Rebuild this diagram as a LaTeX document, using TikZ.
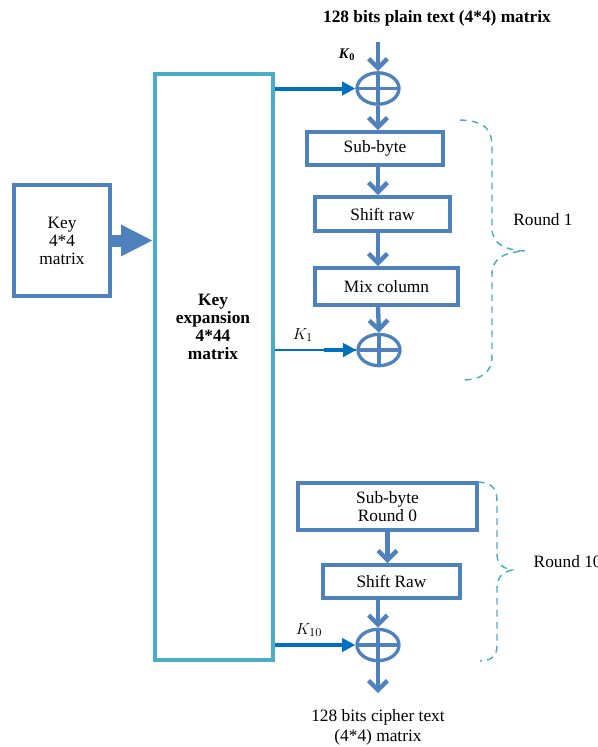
\documentclass[tikz,border=0pt]{standalone}
\usepackage{fontspec}
\setmainfont{Liberation Serif}
\usepackage{amsmath,amssymb}
\usetikzlibrary{shapes.geometric,arrows.meta,calc}
\definecolor{boxblue}{RGB}{79,129,189}
\definecolor{keycyan}{RGB}{75,172,198}
\definecolor{keyblue}{RGB}{0,112,192}

\begin{document}
\begin{tikzpicture}[x=0.75pt, y=-0.75pt,
    font=\fontsize{13}{13.5}\selectfont,
    stage/.style={draw=boxblue, line width=3pt, inner sep=0pt, align=center},
    xorop/.style={draw=boxblue, line width=2.5pt, ellipse, inner sep=0pt,
        minimum width=31.5pt, minimum height=23.5pt,
        path picture={\draw[boxblue, line width=2.5pt]
            (path picture bounding box.north) -- (path picture bounding box.south)
            (path picture bounding box.west) -- (path picture bounding box.east);}},
    flow/.style={boxblue, line width=3.3pt, -{Straight Barb[length=7pt,width=14pt]}},
    keyflow/.style={keyblue, line width=3pt, -{Triangle[length=10pt,width=10pt]}},
    roundbrace/.style={keycyan, line width=1.1pt, dash pattern=on 5pt off 4pt}]
    \useasboundingbox (0,0) rectangle (598,747);

    % Key input
    \node[stage, minimum width=72pt, minimum height=83.25pt] (key) at (62,240.5) {Key\\4*4\\matrix};

    % Key expansion
    \node[stage, draw=keycyan, minimum width=88.5pt, minimum height=439.5pt] (exp) at (214,367) {};
    \node[font=\fontsize{13}{13.5}\selectfont\bfseries, align=center] (explabel) at (213,327) {Key\\expansion\\4*44\\matrix};
    \draw[boxblue, line width=9pt, -{Triangle[length=24pt,width=22pt]}] (key.east) -- (key.east -| exp.west);

    % Plain text in
    \node[font=\fontsize{13}{13.5}\selectfont\bfseries] (plain) at (437,18) {128 bits plain text (4*4) matrix};
    \coordinate (pin) at (378,42);

    % Initial round key
    \node[xorop] (xor0) at (378,88.5) {};
    \node[font=\fontsize{11}{11}\selectfont\bfseries] (k0) at (347,55) {\textit{K}\textsubscript{0}};

    % Round 1
    \node[stage, minimum width=102pt, minimum height=24.75pt] (sub1) at (375,148.5) {Sub-byte};
    \node[stage, minimum width=101.25pt, minimum height=25.5pt] (shift1) at (382.5,214) {Shift raw};
    \node[stage, minimum width=107.25pt, minimum height=27.75pt] (mix1) at (386.5,286.5) {Mix column};
    \node[xorop] (xor1) at (379,350) {};
    \node (k1) at (303,335) {$K_{1}$};
    \node (r1) at (543,220) {Round 1};

    % Round 10
    \node[stage, minimum width=134.25pt, minimum height=35.25pt] (sub10) at (387.5,506.5) {Sub-byte\\Round 0};
    \node[stage, minimum width=102.75pt, minimum height=24.75pt] (shift10) at (391.5,581.5) {Shift Raw};
    \node[xorop] (xor10) at (378,645) {};
    \node (k10) at (309,630) {$K_{10}$};
    \node[anchor=west] (r10) at (529,562) {Round 10};

    % Cipher text out
    \coordinate (pout) at (378,693);
    \node[font=\fontsize{13}{15}\selectfont, align=center] (cipher) at (378,727) {128 bits cipher text\\(4*4) matrix};

    % Data path
    \draw[flow] (pin) -- (xor0.north);
    \draw[flow] (xor0.south) -- (xor0.south |- sub1.north);
    \draw[flow] (xor0 |- sub1.south) -- (xor0 |- shift1.north);
    \draw[flow] (xor0 |- shift1.south) -- (xor0 |- mix1.north);
    \draw[flow] (xor0 |- mix1.south) -- (xor1.north);
    \draw[flow] (sub10.south) -- (sub10.south |- shift10.north);
    \draw[flow] (xor10 |- shift10.south) -- (xor10.north);
    \draw[flow] (xor10.south) -- (pout);

    % Round keys
    \draw[keyflow] (exp.east |- xor0) -- (xor0.west);
    \draw[keyblue, line width=1.1pt] (exp.east |- xor1) -- (xor1.west);
    \draw[keyflow] ([xshift=-24pt]xor1.west) -- (xor1.west);
    \draw[keyflow] (exp.east |- xor10) -- (xor10.west);

    % Braces
    \draw[roundbrace] (460,120) .. controls (488,121) and (492,132) .. (492,148) -- (492,228)
        .. controls (492,244) and (505,250) .. (525,251)
        .. controls (505,252) and (492,258) .. (492,274) -- (492,356)
        .. controls (492,372) and (482,380) .. (462,380);
    \draw[roundbrace] (478,482) .. controls (494,483) and (497,490) .. (497,502) -- (497,554)
        .. controls (497,565) and (503,568) .. (512,570)
        .. controls (503,572) and (497,577) .. (497,588) -- (497,646)
        .. controls (497,657) and (490,661) .. (480,661);
\end{tikzpicture}
\end{document}
